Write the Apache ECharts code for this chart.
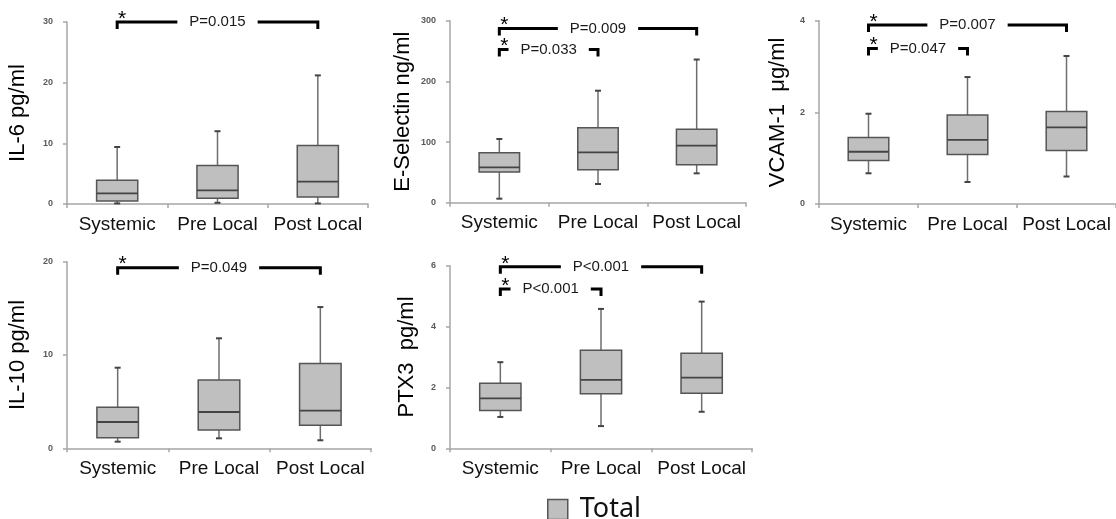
<!DOCTYPE html>
<html><head><meta charset="utf-8">
<script src="https://cdn.jsdelivr.net/npm/echarts@6/dist/echarts.min.js"></script>
<style>html,body{margin:0;padding:0;background:#fff}#c{width:1116px;height:519px}</style>
</head><body><div id="c"></div>
<script>
// ---------- DATA ----------
const categories = ['Systemic', 'Pre Local', 'Post Local'];
// each row: [min, Q1, median, Q3, max]
const il6 = [[0.1, 0.5, 1.75, 3.9, 9.4], [0.2, 0.93, 2.25, 6.36, 12.0], [0.1, 1.15, 3.7, 9.65, 21.2]];
const eSelectin = [[6.6, 50.5, 58.2, 82.4, 105], [30.8, 54.4, 83, 123.6, 184.6], [48.4, 62.6, 94, 120.9, 236]];
const vcam1 = [[0.67, 0.95, 1.14, 1.45, 1.97], [0.48, 1.08, 1.40, 1.94, 2.77], [0.60, 1.17, 1.67, 2.02, 3.23]];
const il10 = [[0.71, 1.14, 2.82, 4.39, 8.64], [1.07, 1.96, 3.89, 7.32, 11.79], [0.86, 2.46, 4.04, 9.1, 15.14]];
const ptx3 = [[1.03, 1.24, 1.64, 2.14, 2.83], [0.73, 1.79, 2.25, 3.22, 4.58], [1.2, 1.81, 2.32, 3.12, 4.82]];

// y-axis tick labels
const il6Ticks = [0, 10, 20, 30];
const eSelectinTicks = [0, 100, 200, 300];
const vcam1Ticks = [0, 2, 4];
const il10Ticks = [0, 10, 20];
const ptx3Ticks = [0, 2, 4, 6];

// significance brackets: [from category, to category, bracket height in axis units]
const il6Tests = [[0, 2, 30]];
const il6P = ['P=0.015'];
const eSelectinTests = [[0, 2, 287], [0, 1, 252.7]];
const eSelectinP = ['P=0.009', 'P=0.033'];
const vcam1Tests = [[0, 2, 3.905], [0, 1, 3.396]];
const vcam1P = ['P=0.007', 'P=0.047'];
const il10Tests = [[0, 2, 19.36]];
const il10P = ['P=0.049'];
const ptx3Tests = [[0, 2, 5.967], [0, 1, 5.234]];
const ptx3P = ['P<0.001', 'P<0.001'];

const yNames = ['IL-6 pg/ml', 'E-Selectin ng/ml', 'VCAM-1  \u03bcg/ml', 'IL-10 pg/ml', 'PTX3  pg/ml'];
const seriesName = 'Total';

// ---------- LAYOUT ----------
const panels = [
  {stats: il6, ticks: il6Ticks, tests: il6Tests, p: il6P, grid: {left: 67, top: 22, width: 301, height: 182}, nameGap: 38},
  {stats: eSelectin, ticks: eSelectinTicks, tests: eSelectinTests, p: eSelectinP, grid: {left: 450, top: 20.7, width: 296, height: 182}, nameGap: 36},
  {stats: vcam1, ticks: vcam1Ticks, tests: vcam1Tests, p: vcam1P, grid: {left: 819, top: 20.7, width: 306, height: 183.3}, nameGap: 30},
  {stats: il10, ticks: il10Ticks, tests: il10Tests, p: il10P, grid: {left: 67, top: 261.7, width: 304, height: 186.6}, nameGap: 38},
  {stats: ptx3, ticks: ptx3Ticks, tests: ptx3Tests, p: ptx3P, grid: {left: 450, top: 265.7, width: 302, height: 182.6}, nameGap: 32}
];

const FONT = '"Liberation Sans", Arial, sans-serif';
const BOX_FILL = '#bfbfbf';
const BOX_STROKE = '#555555';

function boxRender(params, api) {
  const x = api.value(0);
  const pMin = api.coord([x, api.value(1)]);
  const pQ1 = api.coord([x, api.value(2)]);
  const pMed = api.coord([x, api.value(3)]);
  const pQ3 = api.coord([x, api.value(4)]);
  const pMax = api.coord([x, api.value(5)]);
  const band = api.size([1, 0])[0];
  const w = band * 0.41;
  const cx = pMed[0];
  const cap = 3;
  const wStyle = {stroke: '#6e6e6e', lineWidth: 1.5};
  const cStyle = {stroke: '#444', lineWidth: 2};
  return {
    type: 'group',
    children: [
      {type: 'line', shape: {x1: cx, y1: pQ3[1], x2: cx, y2: pMax[1]}, style: wStyle},
      {type: 'line', shape: {x1: cx, y1: pQ1[1], x2: cx, y2: pMin[1]}, style: wStyle},
      {type: 'line', shape: {x1: cx - cap, y1: pMax[1], x2: cx + cap, y2: pMax[1]}, style: cStyle},
      {type: 'line', shape: {x1: cx - cap, y1: pMin[1], x2: cx + cap, y2: pMin[1]}, style: cStyle},
      {type: 'rect', shape: {x: cx - w / 2, y: pQ3[1], width: w, height: pQ1[1] - pQ3[1]},
        style: {fill: BOX_FILL, stroke: BOX_STROKE, lineWidth: 1.5}},
      {type: 'line', shape: {x1: cx - w / 2, y1: pMed[1], x2: cx + w / 2, y2: pMed[1]},
        style: {stroke: '#444', lineWidth: 1.8}}
    ]
  };
}

function bracketRender(labels) {
  return function (params, api) {
    const a = api.value(0), b = api.value(1), h = api.value(2);
    const p1 = api.coord([a, h]), p2 = api.coord([b, h]);
    const y = p1[1], drop = 7;
    return {
      type: 'group',
      children: [
        {type: 'polyline', shape: {points: [[p1[0], y + drop], [p1[0], y], [p2[0], y], [p2[0], y + drop]]},
          style: {stroke: '#000', lineWidth: 3, fill: 'none', lineJoin: 'miter', lineCap: 'butt'}},
        {type: 'text', style: {text: labels[params.dataIndex], x: (p1[0] + p2[0]) / 2, y: y,
          align: 'center', verticalAlign: 'middle', fontSize: 15, fontFamily: FONT, fill: '#1a1a1a',
          backgroundColor: '#fff', padding: [1, 12]}},
        {type: 'text', style: {text: '*', x: p1[0] + 5, y: y - 3, align: 'center', verticalAlign: 'middle',
          fontSize: 21, fontFamily: FONT, fill: '#000'}}
      ]
    };
  };
}

const grid = [], xAxis = [], yAxis = [], series = [];
panels.forEach((pn, i) => {
  grid.push(Object.assign({containLabel: false}, pn.grid));
  xAxis.push({
    type: 'category', data: categories, gridIndex: i,
    axisLine: {lineStyle: {color: '#a6a6a6', width: 1.5}},
    axisTick: {show: true, length: 4, lineStyle: {color: '#a6a6a6', width: 1.5}},
    axisLabel: {interval: 0, fontSize: 19, fontFamily: FONT, color: '#111', margin: 11}
  });
  const t = pn.ticks;
  yAxis.push({
    type: 'value', gridIndex: i, min: t[0], max: t[t.length - 1], interval: t[1] - t[0],
    splitLine: {show: false},
    axisLine: {show: true, lineStyle: {color: '#a6a6a6', width: 1.5}},
    axisTick: {show: true, length: 4, lineStyle: {color: '#a6a6a6', width: 1.5}},
    axisLabel: {fontSize: 9, fontWeight: 'bold', color: '#595959', fontFamily: FONT, margin: 14},
    name: yNames[i], nameLocation: 'middle', nameGap: pn.nameGap,
    nameTextStyle: {fontSize: 22, fontFamily: FONT, color: '#000'}
  });
  series.push({
    type: 'custom', name: seriesName, xAxisIndex: i, yAxisIndex: i,
    itemStyle: {color: BOX_FILL, borderColor: BOX_STROKE},
    renderItem: boxRender,
    encode: {x: 0, y: [1, 2, 3, 4, 5]},
    data: pn.stats.map((s, k) => [k].concat(s)),
    silent: true, animation: false
  });
  series.push({
    type: 'custom', name: 'tests' + i, xAxisIndex: i, yAxisIndex: i,
    renderItem: bracketRender(pn.p),
    encode: {x: [0, 1], y: 2},
    data: pn.tests,
    silent: true, animation: false, z: 5
  });
});

const chart = echarts.init(document.getElementById('c'), null, {renderer: 'canvas'});
chart.setOption({
  animation: false,
  backgroundColor: '#fff',
  grid, xAxis, yAxis, series,
  legend: {
    data: [{name: seriesName, icon: 'rect', itemStyle: {color: BOX_FILL, borderColor: BOX_STROKE, borderWidth: 1.5}}],
    left: 542, top: 491, itemWidth: 20, itemHeight: 20, selectedMode: false,
    textStyle: {fontSize: 27, fontFamily: '"Noto Sans", "Open Sans", sans-serif', color: '#111', padding: [0, 0, 0, 7]}
  }
});
</script></body></html>
